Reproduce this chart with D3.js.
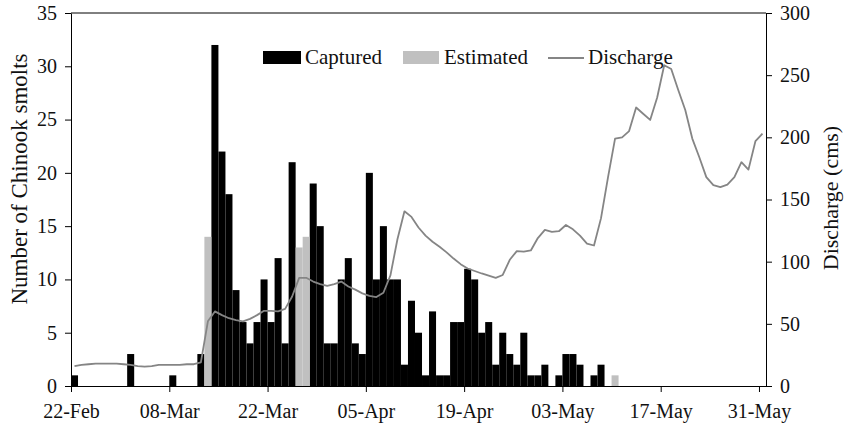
<!DOCTYPE html>
<html><head><meta charset="utf-8">
<script src="https://cdn.jsdelivr.net/npm/d3@7"></script>
<style>
body{margin:0;background:#fff}
text{font-family:"Liberation Serif","Times New Roman",serif;fill:#111}
</style>
</head><body><svg id="c" width="848" height="434"></svg>
<script>
const startDate = "2011-02-22";
const captured = [
  1,0,0,0,0,0,0,0,3,0,
  0,0,0,0,1,0,0,0,3,0,
  32,22,18,9,6,4,6,10,6,12,
  4,21,0,0,19,15,4,4,10,12,
  4,3,20,10,15,10,10,2,8,5,
  1,7,1,1,6,6,11,10,5,6,
  2,5,3,2,5,1,1,2,0,1,
  3,3,2,0,1,2,0,0,0,0,
  0,0,0,0,0,0,0,0,0,0,
  0,0,0,0,0,0,0,0,0
];
const estimated = [
  0,0,0,0,0,0,0,0,0,0,
  0,0,0,0,0,0,0,0,0,14,
  0,0,0,0,0,0,0,0,0,0,
  0,0,13,14,0,0,0,0,0,0,
  0,0,0,0,0,0,0,0,0,0,
  0,0,0,0,0,0,0,0,0,0,
  0,0,0,0,0,0,0,0,0,0,
  0,0,0,0,0,0,0,1,0,0,
  0,0,0,0,0,0,0,0,0,0,
  0,0,0,0,0,0,0,0,0
];
const discharge = [
  16,17,17.5,18,18,18,18,17.5,17,16,
  15.5,16,17,17,17,17,17.5,17.5,19,52,
  60,57,54.5,53,52,54,57,60.5,60.5,60,
  62,72,87,87,84,82,80.5,82,84,80,
  77.5,74.5,72.5,71.5,75,89,118,140.5,136,127.5,
  121,116,112,107.5,102.5,98,94.5,92.5,90.5,88.7,
  87,89.3,101.5,108.5,108,109,119,125.5,124,124.5,
  129.5,126,121,114.5,113,135,168,199,200,205,
  224,219,214,232,258,255,238,222,199,184,
  168,161.5,160,162,168,180,174,197,203
];
const xTickLabels = ["22-Feb","08-Mar","22-Mar","05-Apr","19-Apr","03-May","17-May","31-May"];
const leftTicks = [0,5,10,15,20,25,30,35];
const rightTicks = [0,50,100,150,200,250,300];
const seriesNames = ["Captured","Estimated","Discharge"];
const leftTitle = "Number of Chinook smolts";
const rightTitle = "Discharge (cms)";

const svg = d3.select("#c");
const L = 71, R = 766, T = 13, B = 386;
const start = d3.utcParse("%Y-%m-%d")(startDate);
const days = captured.map((_, i) => d3.utcDay.offset(start, i));
const x = d3.scaleUtc().domain([start, d3.utcDay.offset(start, captured.length)]).range([L, R]);
const yL = d3.scaleLinear().domain([0, 35]).range([B, T]);
const yR = d3.scaleLinear().domain([0, 300]).range([B, T]);
const year = start.getUTCFullYear();
const tickDates = xTickLabels.map(s => d3.utcParse("%d-%b-%Y")(s + "-" + year));

const FS = 20;
const black = "#000", grey = "#c0c0c0", lineCol = "#858585";

// bars
const g = svg.append("g");
g.selectAll("rect.cap").data(days.map((d, i) => ({d, v: captured[i]})).filter(o => o.v > 0))
  .join("rect").attr("class","cap")
  .attr("x", o => x(o.d)).attr("width", o => x(d3.utcDay.offset(o.d,1)) - x(o.d))
  .attr("y", o => yL(o.v)).attr("height", o => yL(0) - yL(o.v)).attr("fill", black);
g.selectAll("rect.est").data(days.map((d, i) => ({d, v: estimated[i]})).filter(o => o.v > 0))
  .join("rect").attr("class","est")
  .attr("x", o => x(o.d)).attr("width", o => x(d3.utcDay.offset(o.d,1)) - x(o.d))
  .attr("y", o => yL(o.v)).attr("height", o => yL(0) - yL(o.v)).attr("fill", grey);

// discharge line
const line = d3.line()
  .x((v, i) => x(d3.utcHour.offset(days[i], 12)))
  .y(v => yR(v));
svg.append("path").attr("d", line(discharge)).attr("fill","none")
  .attr("stroke", lineCol).attr("stroke-width", 1.8).attr("stroke-linejoin","round");

// frame top
svg.append("line").attr("x1", L).attr("x2", R).attr("y1", T).attr("y2", T)
  .attr("stroke", black).attr("stroke-width", 1);

// axes
const ax = svg.append("g").attr("transform", `translate(0,${B})`)
  .call(d3.axisBottom(x).tickValues(tickDates).tickFormat(d3.utcFormat("%d-%b")).tickSize(6).tickSizeOuter(0).tickPadding(12));
const al = svg.append("g").attr("transform", `translate(${L},0)`)
  .call(d3.axisLeft(yL).tickValues(leftTicks).tickSize(6).tickSizeOuter(0).tickPadding(8));
const ar = svg.append("g").attr("transform", `translate(${R},0)`)
  .call(d3.axisRight(yR).tickValues(rightTicks).tickSize(6).tickSizeOuter(0).tickPadding(8));
[ax, al, ar].forEach(a => {
  a.selectAll("path, line").attr("stroke", black).attr("stroke-width", 1);
  a.selectAll("text").attr("font-size", FS).attr("font-family", null).style("fill", "#111");
});

// titles
svg.append("text").attr("transform", "translate(27,179) rotate(-90)")
  .attr("text-anchor","middle").attr("font-size", 23).text(leftTitle);
svg.append("text").attr("transform", "translate(838,198) rotate(-90)")
  .attr("text-anchor","middle").attr("font-size", 22).text(rightTitle);

// legend
const lg = svg.append("g");
const ly = 64;
lg.append("rect").attr("x", 263).attr("y", 51).attr("width", 38).attr("height", 13).attr("fill", black);
lg.append("text").attr("x", 305).attr("y", ly).attr("font-size", 21).text(seriesNames[0]);
lg.append("rect").attr("x", 403).attr("y", 51).attr("width", 36).attr("height", 13).attr("fill", grey);
lg.append("text").attr("x", 444).attr("y", ly).attr("font-size", 21).text(seriesNames[1]);
lg.append("line").attr("x1", 548).attr("x2", 584).attr("y1", 58).attr("y2", 58)
  .attr("stroke", lineCol).attr("stroke-width", 2);
lg.append("text").attr("x", 588).attr("y", ly).attr("font-size", 21).text(seriesNames[2]);
</script>
</body></html>
